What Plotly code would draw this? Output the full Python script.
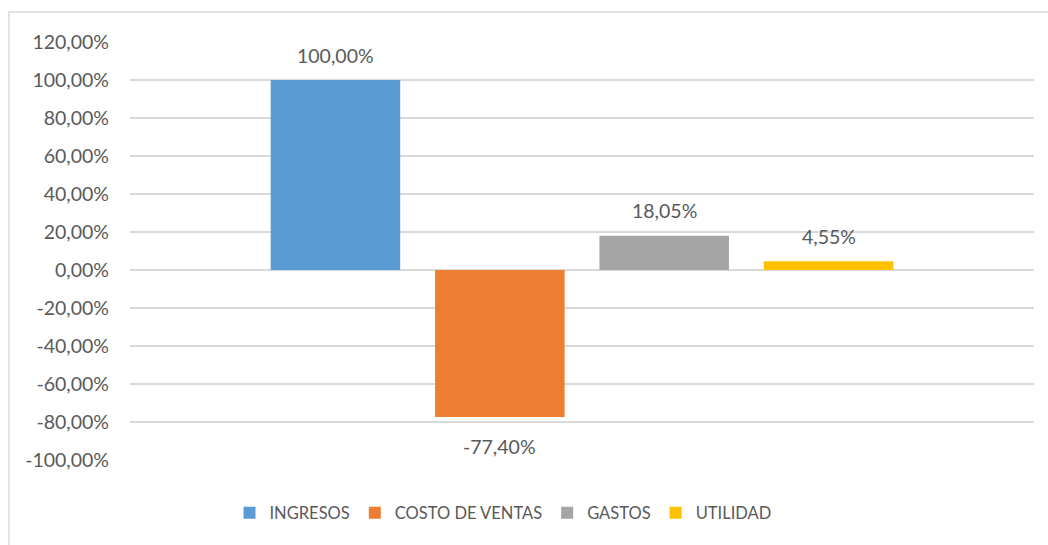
import plotly.graph_objects as go

series = ["INGRESOS", "COSTO DE VENTAS", "GASTOS", "UTILIDAD"]
values = [100.00, -77.40, 18.05, 4.55]
colors = ["#5b9bd5", "#ed7d31", "#a5a5a5", "#ffc000"]
tick_vals = [120, 100, 80, 60, 40, 20, 0, -20, -40, -60, -80, -100]

FONT = "Lato"
GRAY = "#595959"

def fmt(v):
    return f"{v:.2f}".replace(".", ",") + "%"

fig = go.Figure()
for name, v, c in zip(series, values, colors):
    fig.add_trace(go.Bar(x=[name], y=[v], name=name, marker=dict(color=c, line=dict(width=0)),
                         width=0.788))
    fig.add_annotation(x=name, y=v, text=fmt(v), showarrow=False,
                       yshift=25 if v >= 0 else -29, yanchor="middle",
                       font=dict(family=FONT, size=19.5, color=GRAY))

fig.update_layout(
    width=1048, height=545,
    margin=dict(l=130, r=14, t=42, b=85),
    plot_bgcolor="white", paper_bgcolor="white",
    barmode="overlay",
    font=dict(family=FONT, size=19, color=GRAY),
    showlegend=True,
    legend=dict(orientation="h", x=(503 - 130) / 904, xanchor="center", y=-0.127, yanchor="middle",
                font=dict(family=FONT, size=16.5, color=GRAY), itemwidth=30,
                traceorder="normal"),
    xaxis=dict(type="category", categoryorder="array", categoryarray=series,
               range=[-1.25, 4.25], showticklabels=False, showgrid=False,
               zeroline=False, showline=False, ticks=""),
    yaxis=dict(range=[-100, 120], tickmode="array", tickvals=tick_vals,
               ticktext=[fmt(t) for t in tick_vals],
               showgrid=True, gridcolor="#d9d9d9", gridwidth=1.5,
               zeroline=True, zerolinecolor="#d9d9d9", zerolinewidth=1.5,
               showline=False, ticks="", ticklabelstandoff=20,
               tickfont=dict(family=FONT, size=19.5, color=GRAY)),
    shapes=[dict(type="rect", xref="paper", yref="paper",
                 x0=(9 - 130) / 904, x1=(1060 - 130) / 904,
                 y0=(460 - 560) / 418, y1=(460 - 12) / 418,
                 line=dict(color="#d9d9d9", width=1.5), fillcolor="rgba(0,0,0,0)",
                 layer="below")],
)

fig.write_html("out.html", config={"displayModeBar": False},
               post_script="document.body.style.margin='0';")
